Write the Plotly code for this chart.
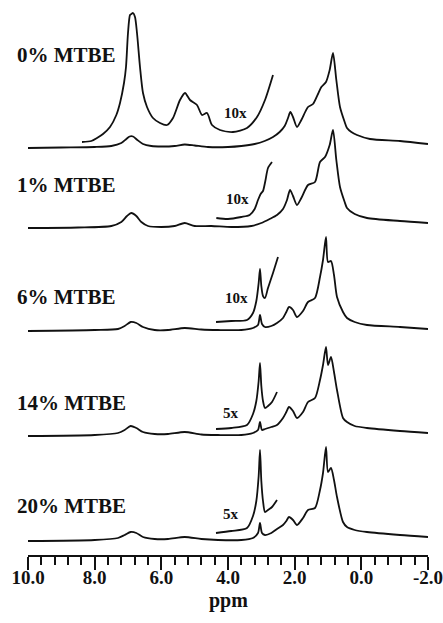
import plotly.graph_objects as go

# ---------------- data ----------------
sample_labels = ["0% MTBE", "1% MTBE", "6% MTBE", "14% MTBE", "20% MTBE"]
gain_labels = ["10x", "10x", "10x", "5x", "5x"]

# spectrum 0 % MTBE
ppm_0 = [10.0, 9.0, 8.0, 7.5, 7.2, 7.05, 6.95, 6.85, 6.72, 6.55, 6.3, 6.0, 5.6, 5.3, 5.0, 4.6, 4.0, 3.6,
         3.2, 2.9, 2.65, 2.45, 2.3, 2.2, 2.13, 2.05, 1.93, 1.8, 1.6, 1.45, 1.3, 1.2, 1.06, 0.95, 0.85,
         0.75, 0.64, 0.5, 0.43, 0.3, 0.13, -0.26, -1.16, -2.0]
int_0 = [0, 0.5, 1, 2, 5, 9, 11.5, 11.5, 8, 4, 2, 1.5, 2, 3.5, 2.5, 1, 1, 2,
         4, 7, 11, 16, 22, 30, 36, 31, 21, 28, 41, 44, 54, 61, 66, 78, 95,
         68, 41, 26, 20, 16, 13, 9, 7, 4]
ins_ppm_0 = [8.38, 8.1, 7.93, 7.75, 7.54, 7.35, 7.24, 7.12, 7.06, 7.0, 6.94, 6.9, 6.85, 6.79, 6.73, 6.64,
             6.55, 6.43, 6.25, 6.04, 5.83, 5.65, 5.44, 5.29, 5.14, 4.93, 4.78, 4.63, 4.48, 4.24, 3.85,
             3.43, 3.13, 2.89, 2.65]
ins_int_0 = [6, 7, 10, 14, 21, 33, 45, 65, 81, 115, 133, 134, 135, 131, 115, 81,
             55, 41, 30, 25, 23, 30, 48, 55, 48, 43, 33, 35, 23, 18, 16,
             20, 31, 48, 73]

# spectrum 1 % MTBE
ppm_1 = [10.0, 8.5, 7.5, 7.2, 7.03, 6.9, 6.75, 6.6, 6.4, 6.0, 5.6, 5.3, 5.0, 4.5, 3.9, 3.3, 3.0, 2.75,
         2.53, 2.35, 2.23, 2.14, 2.05, 1.93, 1.8, 1.6, 1.39, 1.24, 1.09, 0.95, 0.85, 0.75, 0.64, 0.5,
         0.43, 0.2, -0.17, -1.16, -2.0]
int_1 = [0, 0.5, 2, 6, 12, 15, 12, 6, 2, 1, 2, 5, 2, 2, 1, 2, 5, 9,
         13, 19, 28, 38, 32, 23, 30, 43, 46, 66, 71, 83, 98, 68, 41, 26,
         20, 14, 10, 7, 5]
ins_ppm_1 = [4.35, 4.0, 3.6, 3.35, 3.2, 3.1, 3.02, 2.95, 2.88, 2.8, 2.68]
ins_int_1 = [10, 9, 11, 13, 19, 28, 34, 37, 47, 60, 66]

# spectra 6 %, 14 %, 20 % MTBE share one ppm grid
ppm_2 = [10.0, 8.0, 7.3, 7.1, 6.92, 6.75, 6.55, 6.2, 5.8, 5.3, 4.8, 4.3, 3.6, 3.25, 3.1, 3.04, 2.98,
         2.89, 2.7, 2.53, 2.35, 2.25, 2.17, 2.05, 1.93, 1.75, 1.6, 1.39, 1.24, 1.15, 1.06, 1.0, 0.91,
         0.82, 0.73, 0.55, 0.43, 0.2, -0.17, -1.16, -2.0]
int_2 = [0, 1, 2, 5, 9, 8, 4, 1, 1, 3, 1.5, 1, 1, 3, 6, 16, 7,
         4, 5, 8, 13, 19, 24, 21, 14, 20, 29, 33, 54, 71, 94, 69, 70,
         56, 34, 19, 13, 9, 6, 4, 2]
int_3 = [0, 1, 3, 6, 10, 8, 4, 2, 2, 4, 1.5, 1, 1, 3, 6, 14, 6,
         7, 9, 11, 18, 24, 29, 25, 18, 24, 34, 38, 56, 71, 89, 71, 79,
         64, 46, 18, 14, 10, 8, 5, 3]
int_4 = [0, 1, 3, 6, 9, 8, 4, 2, 2, 4, 2, 1, 1, 3, 8, 18, 8,
         6, 8, 12, 16, 20, 24, 21, 16, 23, 31, 33, 51, 68, 94, 69, 73,
         61, 44, 19, 14, 11, 9, 6, 4]

ins_ppm_2 = [4.36, 3.9, 3.43, 3.25, 3.15, 3.08, 3.04, 3.0, 2.95, 2.89, 2.8, 2.65, 2.5]
ins_int_2 = [9, 10, 11, 18, 30, 48, 62, 45, 35, 33, 43, 58, 74]
ins_ppm_3 = [4.36, 3.9, 3.43, 3.25, 3.15, 3.08, 3.04, 3.0, 2.95, 2.89, 2.8, 2.68, 2.53]
ins_int_3 = [7, 8, 11, 22, 35, 55, 73, 50, 35, 28, 30, 34, 44]
ins_int_4 = [8, 10, 13, 25, 40, 65, 91, 60, 40, 29, 31, 34, 41]

tick_vals = [10.0, 8.0, 6.0, 4.0, 2.0, 0.0, -2.0]
tick_text = ["10.0", "8.0", "6.0", "4.0", "2.0", "0.0", "-2.0"]

main_ppm = [ppm_0, ppm_1, ppm_2, ppm_2, ppm_2]
main_int = [int_0, int_1, int_2, int_3, int_4]
ins_ppm = [ins_ppm_0, ins_ppm_1, ins_ppm_2, ins_ppm_3, ins_ppm_3]
ins_int = [ins_int_0, ins_int_1, ins_int_2, ins_int_3, ins_int_4]

# ---------------- layout constants ----------------
stack_offsets = [407, 327, 224, 119, 14]
label_y = [500, 370, 258, 152, 49]
gain_pos = [(3.79, 442), (3.73, 356), (3.76, 257), (3.91, 142), (3.91, 41)]

LINE = dict(color="#111111", width=1.8, shape="spline", smoothing=0.7)
SERIF = "Liberation Serif, Times New Roman, serif"

fig = go.Figure()
for k in range(5):
    off = stack_offsets[k]
    fig.add_trace(go.Scatter(x=main_ppm[k], y=[v + off for v in main_int[k]], mode="lines",
                             line=LINE, hoverinfo="skip", cliponaxis=False))
    fig.add_trace(go.Scatter(x=ins_ppm[k], y=[v + off for v in ins_int[k]], mode="lines",
                             line=LINE, hoverinfo="skip", cliponaxis=False))
    fig.add_annotation(x=-13 / 400, y=label_y[k] / 555, xref="paper", yref="paper",
                       text="<b>%s</b>" % sample_labels[k],
                       showarrow=False, xanchor="left", yanchor="middle",
                       font=dict(family=SERIF, size=21, color="#111111"))
    gx, gy = gain_pos[k]
    fig.add_annotation(x=gx, y=gy, xref="x", yref="y", text="<b>%s</b>" % gain_labels[k],
                       showarrow=False, xanchor="center", yanchor="middle",
                       font=dict(family=SERIF, size=15, color="#111111"))

fig.add_annotation(x=0.5, y=-45 / 555, xref="paper", yref="paper", text="<b>ppm</b>", showarrow=False,
                   xanchor="center", yanchor="middle", font=dict(family=SERIF, size=20, color="#111111"))

fig.update_layout(
    width=443, height=623,
    margin=dict(l=28, r=15, t=0, b=68, autoexpand=False),
    paper_bgcolor="white", plot_bgcolor="white",
    showlegend=False,
    xaxis=dict(range=[10.0, -2.0], showgrid=False, zeroline=False, automargin=False,
               showline=True, linecolor="#111111", linewidth=2,
               ticks="outside", ticklen=13, tickwidth=1.5, tickcolor="#111111",
               tickvals=tick_vals, ticktext=tick_text, ticklabelstandoff=-9,
               ticklabeloverflow="allow",
               tickfont=dict(family=SERIF, size=19, color="#111111", weight="bold"),
               minor=dict(dtick=0.4, tick0=0, ticks="outside", ticklen=8, tickwidth=1.5,
                          tickcolor="#111111", showgrid=False)),
    yaxis=dict(range=[0, 555], visible=False, automargin=False),
)

fig.write_html("out.html", config={"displayModeBar": False},
               post_script="document.body.style.margin='0';")
